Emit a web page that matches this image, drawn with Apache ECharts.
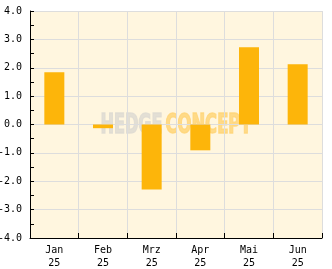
<!DOCTYPE html>
<html><head><meta charset="utf-8">
<script src="https://cdn.jsdelivr.net/npm/echarts@6/dist/echarts.min.js"></script>
<style>html,body{margin:0;padding:0;background:#fff}#c{width:332px;height:269px}</style>
</head><body><div id="c"></div>
<script>
const categories = ['Jan\n25', 'Feb\n25', 'Mrz\n25', 'Apr\n25', 'Mai\n25', 'Jun\n25'];
const values = [1.84, -0.13, -2.29, -0.91, 2.72, 2.12];
const yMin = -4, yMax = 4, yStep = 1;
const watermarkA = 'HEDGE';
const watermarkB = 'CONCEPT';

const chart = echarts.init(document.getElementById('c'), null, {renderer: 'canvas'});
const mono = '"DejaVu Sans Mono", monospace';
const wmFont = 'bold 26px "DejaVu Sans", sans-serif';
chart.setOption({
  animation: false,
  grid: {left: 30, right: 10, top: 11, bottom: 31, show: true, backgroundColor: '#FFF6DF', borderWidth: 0, containLabel: false, outerBoundsMode: 'none'},
  xAxis: {
    type: 'category', data: categories, boundaryGap: true,
    axisLine: {show: true, onZero: false, lineStyle: {color: '#000', width: 1}},
    axisTick: {show: true, inside: true, length: 5, lineStyle: {color: '#000'}},
    axisLabel: {color: '#000', fontFamily: mono, fontSize: 10, lineHeight: 13, margin: 6},
    splitLine: {show: true, lineStyle: {color: '#DDDDDD', width: 1}}
  },
  yAxis: {
    type: 'value', min: yMin, max: yMax, interval: yStep,
    axisLine: {show: true, lineStyle: {color: '#000', width: 1}},
    axisTick: {show: true, inside: true, length: 4, lineStyle: {color: '#000'}},
    minorTick: {show: true, splitNumber: 2, length: 4, lineStyle: {color: '#000'}},
    axisLabel: {color: '#000', fontFamily: mono, fontSize: 10, margin: 8, formatter: v => v.toFixed(1)},
    splitLine: {show: true, lineStyle: {color: '#DDDDDD', width: 1}}
  },
  series: [{
    type: 'bar', data: values, barWidth: 20,
    itemStyle: {color: '#FDB50A'}
  }],
  graphic: [{
    type: 'group', left: 100, top: 112, z: 100,
    children: [
      {type: 'text', x: 0, y: 0, scaleX: 0.62, style: {text: watermarkA, font: wmFont, fill: 'rgb(222,219,210)', stroke: 'rgb(222,219,210)', lineWidth: 1.5, opacity: 0.85}},
      {type: 'text', x: 65, y: 0, scaleX: 0.63, style: {text: watermarkB, font: wmFont, fill: 'rgb(255,213,120)', stroke: 'rgb(255,213,120)', lineWidth: 1.5, opacity: 0.85}}
    ]
  }]
});
</script></body></html>
